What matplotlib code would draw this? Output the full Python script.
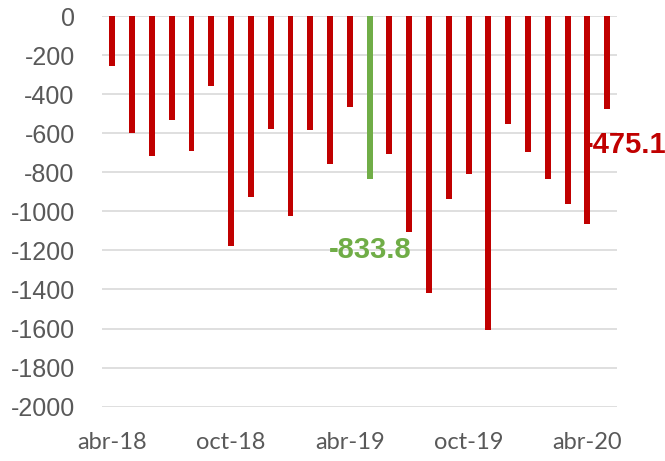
import matplotlib
matplotlib.use("Agg")
import matplotlib.pyplot as plt

months = ["abr-18", "may-18", "jun-18", "jul-18", "ago-18", "sep-18", "oct-18",
          "nov-18", "dic-18", "ene-19", "feb-19", "mar-19", "abr-19", "may-19",
          "jun-19", "jul-19", "ago-19", "sep-19", "oct-19", "nov-19", "dic-19",
          "ene-20", "feb-20", "mar-20", "abr-20", "may-20"]
values = [-256, -600, -714, -532, -692, -357, -1175, -928, -580, -1024, -583,
          -757, -465, -833.8, -708, -1106, -1420, -935, -807, -1610, -554,
          -696, -832, -961, -1066, -475.1]
highlight_index = 13
tick_labels = ["abr-18", "oct-18", "abr-19", "oct-19", "abr-20"]
y_ticks = [0, -200, -400, -600, -800, -1000, -1200, -1400, -1600, -1800, -2000]

RED = "#c00000"
GREEN = "#70ad47"
GRAY = "#595959"

fig = plt.figure(figsize=(6.65, 4.61), dpi=100)
ax = fig.add_axes([0.154, 0.118, 0.774, 0.847])

x = list(range(len(values)))
colors = [GREEN if i == highlight_index else RED for i in x]
ax.bar(x, values, width=0.3, color=colors, zorder=3)

ax.set_xlim(-0.5, len(values) - 0.5)
ax.set_ylim(-2000, 0)
ax.set_yticks(y_ticks)
ax.set_yticklabels([str(v) for v in y_ticks], fontsize=18, color=GRAY,
                   family=["Liberation Sans", "DejaVu Sans"])
tick_pos = [months.index(t) for t in tick_labels]
ax.set_xticks(tick_pos)
ax.set_xticklabels(tick_labels, fontsize=17, color=GRAY, family=["Lato", "DejaVu Sans"])
ax.tick_params(axis="both", length=0)
ax.tick_params(axis="y", pad=20)
ax.tick_params(axis="x", pad=18)

ax.grid(axis="y", color="#d9d9d9", linewidth=1.2, zorder=0)
for s in ax.spines.values():
    s.set_visible(False)

ax.text(10.95, -1200, f"{values[highlight_index]:.1f}", color=GREEN, fontsize=21,
        fontweight="bold", ha="left", va="center", family=["Liberation Sans", "DejaVu Sans"],
        zorder=4)
ax.text(23.8, -660, f"{values[-1]:.1f}", color=RED, fontsize=21,
        fontweight="bold", ha="left", va="center", family=["Liberation Sans", "DejaVu Sans"],
        zorder=2, clip_on=False)

fig.savefig("out.png", dpi=100)
